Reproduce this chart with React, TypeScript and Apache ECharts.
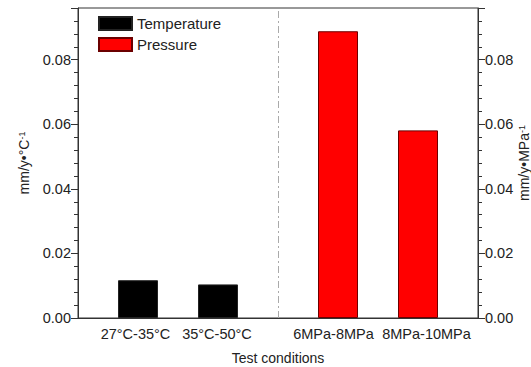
import React, { useEffect, useRef } from "react";
import * as echarts from "echarts";

const categories = ["27°C-35°C", "35°C-50°C", "6MPa-8MPa", "8MPa-10MPa"];
const categoryPositions = [3, 7, 13, 17];
const temperatureValues = [0.0117, 0.0104];
const pressureValues = [0.0888, 0.0581];
const dividerPosition = 10;
const yTicks = [0, 0.02, 0.04, 0.06, 0.08];

const FONT = "'Liberation Sans', Arial, sans-serif";
const FS = 14;
const labelStyles = ["a", "b", "c", "d"];

export default function App() {
  const ref = useRef<HTMLDivElement>(null);
  useEffect(() => {
    document.body.style.margin = "0";
    if (!ref.current) return;
    const chart = echarts.init(ref.current, null, { renderer: "svg" });
    const labelMap: Record<number, string> = {};
    categoryPositions.forEach(
      (p, i) => (labelMap[p] = `{${labelStyles[i]}|${categories[i]}}`)
    );
    const yFmt = (v: number) => {
      const hit = yTicks.find((t) => Math.abs(t - v) < 1e-9);
      return hit === undefined ? "" : hit.toFixed(2);
    };
    const xRich = (pad: number[]) => ({
      fontSize: 14.5,
      fontFamily: FONT,
      color: "#222",
      padding: pad,
    });
    const yAxisCommon = {
      type: "value",
      min: 0,
      max: 0.096,
      interval: 0.02,
      axisLine: { show: true, lineStyle: { color: "#333", width: 1 } },
      axisTick: { show: true, length: 7, inside: false, lineStyle: { color: "#333" } },
      minorTick: { show: true, splitNumber: 5, length: 4, lineStyle: { color: "#333" } },
      splitLine: { show: false },
      axisLabel: { color: "#222", fontSize: 14.5, fontFamily: FONT, margin: 7, formatter: yFmt },
      nameLocation: "middle",
      nameMoveOverlap: false,
      nameTextStyle: {
        color: "#222",
        fontSize: FS,
        fontFamily: FONT,
        rich: { s: { fontSize: 9, fontFamily: FONT, color: "#222", verticalAlign: "top" } },
      },
    };
    chart.setOption({
      animation: false,
      backgroundColor: "#fff",
      grid: {
        left: 78,
        right: 53,
        top: 8,
        bottom: 49,
        show: true,
        borderColor: "#333",
        borderWidth: 1,
        containLabel: false,
        outerBoundsMode: "none",
      },
      legend: {
        orient: "vertical",
        left: 98,
        top: 16,
        padding: 0,
        itemGap: 6,
        itemWidth: 33,
        itemHeight: 13,
        icon: "rect",
        textStyle: { fontSize: 15, fontFamily: FONT, color: "#222" },
        data: ["Temperature", "Pressure"],
      },
      xAxis: {
        type: "value",
        min: 0,
        max: 20,
        interval: 1,
        name: "Test conditions",
        nameLocation: "middle",
        nameGap: 33,
        nameTextStyle: { color: "#222", fontSize: FS, fontFamily: FONT },
        axisLine: { show: true, lineStyle: { color: "#333", width: 1 } },
        axisTick: { show: false },
        splitLine: { show: false },
        axisLabel: {
          color: "#222",
          fontSize: 14.5,
          fontFamily: FONT,
          margin: 8,
          hideOverlap: false,
          formatter: (v: number) => labelMap[Math.round(v)] ?? "",
          rich: {
            a: xRich([0, 5, 0, 0]),
            b: xRich([0, 2, 0, 0]),
            c: xRich([0, 9, 0, 0]),
            d: xRich([0, 0, 0, 17]),
          },
        },
      },
      yAxis: [
        { ...yAxisCommon, position: "left", name: "mm/y•°C{s|-1}", nameGap: 47 },
        { ...yAxisCommon, position: "right", name: "mm/y•MPa{s|-1}", nameGap: 39 },
      ],
      series: [
        {
          name: "Temperature",
          type: "bar",
          barWidth: 40,
          barGap: "-100%",
          yAxisIndex: 0,
          itemStyle: { color: "#000", borderColor: "#222", borderWidth: 1 },
          data: temperatureValues.map((v, i) => [categoryPositions[i], v]),
          markLine: {
            silent: true,
            symbol: "none",
            label: { show: false },
            lineStyle: { color: "#aaa", width: 1, type: [7, 3, 2, 3] },
            data: [{ xAxis: dividerPosition }],
          },
        },
        {
          name: "Pressure",
          type: "bar",
          barWidth: 40,
          barGap: "-100%",
          yAxisIndex: 1,
          itemStyle: { color: "#ff0000", borderColor: "#6b0000", borderWidth: 1 },
          data: pressureValues.map((v, i) => [categoryPositions[i + 2], v]),
        },
      ],
    });
    return () => chart.dispose();
  }, []);
  return <div ref={ref} style={{ width: 531, height: 367 }} />;
}
